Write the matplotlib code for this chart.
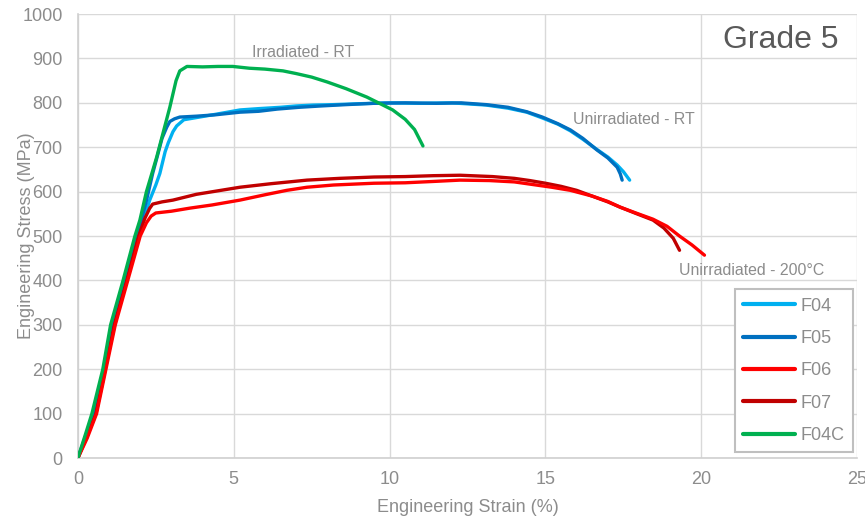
import matplotlib
matplotlib.use("Agg")
import matplotlib.pyplot as plt

plt.rcParams['font.family'] = ['Liberation Sans', 'DejaVu Sans']

# ---- data ----
f04_x = [0, 0.3, 0.5, 0.85, 1.15, 1.5, 1.9, 2.3, 2.5, 2.63, 2.8, 2.9, 3.05, 3.17, 3.4, 3.9, 4.4,
         5.2, 5.8, 6.5, 7.0, 7.55, 8.2, 9.0, 10.0, 11.0, 12.0, 13.1, 13.8, 14.4, 14.9, 15.4,
         15.8, 16.2, 16.65, 17.0, 17.3, 17.5, 17.7]
f04_y = [0, 55, 95, 195, 290, 390, 490, 580, 615, 641, 690, 710, 735, 748, 762, 768, 774,
         784, 787, 790, 793, 795, 796, 798, 800, 799, 800, 795, 788, 779, 766, 752,
         737, 718, 695, 678, 660, 645, 626]

f05_x = [0, 0.3, 0.5, 0.85, 1.12, 1.5, 1.9, 2.2, 2.4, 2.55, 2.7, 2.85, 2.95, 3.1, 3.27, 3.8,
         4.4, 5.2, 5.8, 6.4, 7.1, 7.8, 8.6, 9.5, 10.5, 11.5, 12.3, 13.1, 13.8, 14.4, 14.9,
         15.4, 15.8, 16.2, 16.65, 17.0, 17.3, 17.4, 17.46]
f05_y = [0, 60, 100, 200, 300, 400, 500, 580, 641, 680, 720, 745, 758, 764, 768, 770,
         773, 779, 781, 786, 790, 793, 796, 799, 800, 799, 800, 796, 790, 780, 768,
         753, 739, 720, 694, 676, 655, 640, 626]

f06_x = [0, 0.3, 0.6, 0.9, 1.2, 1.6, 2.0, 2.2, 2.35, 2.5, 3.0, 3.6, 4.3, 5.2, 6.0, 6.7,
         7.35, 8.2, 9.5, 10.5, 11.4, 12.26, 13.2, 14.0, 14.6, 15.2, 15.8, 16.5, 17.0, 17.4,
         17.9, 18.45, 18.9, 19.3, 19.7, 20.1]
f06_y = [0, 45, 100, 200, 300, 400, 500, 530, 545, 552, 556, 563, 570, 581, 593, 603,
         610, 615, 619, 620, 623, 626, 625, 622, 616, 610, 603, 590, 578, 565,
         552, 538, 522, 500, 480, 457]

f07_x = [0, 0.3, 0.58, 0.88, 1.17, 1.57, 1.95, 2.15, 2.3, 2.4, 2.7, 3.05, 3.8, 4.5, 5.2, 6.2,
         7.35, 8.4, 9.5, 10.5, 11.4, 12.26, 13.3, 14.0, 14.5, 15.0, 15.5, 16.0, 16.5, 17.0,
         17.4, 17.9, 18.45, 18.8, 19.1, 19.3]
f07_y = [0, 50, 100, 200, 300, 400, 500, 540, 562, 572, 577, 581, 594, 602, 610, 618,
         626, 630, 633, 634, 636, 637, 634, 630, 625, 619, 612, 603, 590, 577,
         565, 551, 536, 518, 495, 468]

f04c_x = [0, 0.25, 0.45, 0.8, 1.05, 1.45, 1.83, 1.99, 2.2, 2.53, 2.8, 2.95, 3.05, 3.15, 3.27,
          3.5, 4.0, 4.5, 4.97, 5.5, 6.0, 6.58, 7.0, 7.5, 8.0, 8.6, 9.27, 9.7, 10.1, 10.5,
          10.8, 11.07]
f04c_y = [0, 55, 100, 200, 300, 400, 500, 536, 600, 678, 750, 790, 820, 850, 872,
          882, 881, 882, 882, 878, 876, 872, 866, 858, 847, 832, 813, 798, 784, 763,
          740, 703]

series = [
    ("F04", f04_x, f04_y, "#00B0F0", 2),
    ("F05", f05_x, f05_y, "#0070C0", 3),
    ("F06", f06_x, f06_y, "#FF0000", 5),
    ("F07", f07_x, f07_y, "#C00000", 4),
    ("F04C", f04c_x, f04c_y, "#00B050", 6),
]

x_ticks = [0, 5, 10, 15, 20, 25]
y_ticks = [0, 100, 200, 300, 400, 500, 600, 700, 800, 900, 1000]

annotations = [
    ("Irradiated - RT", 7.22, 914),
    ("Unirradiated - RT", 17.84, 763),
    ("Unirradiated - 200°C", 21.6, 423),
]

# ---- figure ----
fig = plt.figure(figsize=(8.65, 5.2), dpi=100)
ax = fig.add_axes([0.090, 0.119, 0.901, 0.854])

for name, xs, ys, col, z in series:
    ax.plot(xs, ys, color=col, lw=2.4, label=name, zorder=z,
            solid_joinstyle='round', solid_capstyle='round')

ax.set_xlim(0, 25)
ax.set_ylim(0, 1000)
ax.set_xticks(x_ticks)
ax.set_yticks(y_ticks)
ax.grid(True, color="#D9D9D9", lw=1.0)
ax.set_axisbelow(True)
for s in ['top', 'right']:
    ax.spines[s].set_visible(False)
for s in ['left', 'bottom']:
    ax.spines[s].set_color("#D0D0D0")
    ax.spines[s].set_linewidth(1.2)
ax.tick_params(length=0, colors="#8C8C8C", labelsize=13)
ax.tick_params(axis='x', pad=9)
ax.tick_params(axis='y', pad=11)
ax.set_xlabel("Engineering Strain (%)", color="#8C8C8C", fontsize=13, labelpad=8)
ax.set_ylabel("Engineering Stress (MPa)", color="#8C8C8C", fontsize=13, labelpad=-9)

for txt, x, y in annotations:
    ax.text(x, y, txt, color="#8C8C8C", fontsize=11.4, ha='center', va='center')

ax.text(24.39, 941, "Grade 5", color="#595959", fontsize=23, ha='right', va='center')

leg = ax.legend(loc='lower right', bbox_to_anchor=(0.994, 0.0135), fontsize=13,
                handlelength=2.9, labelspacing=0.85, borderpad=0.45, handletextpad=0.3,
                fancybox=False, framealpha=1, edgecolor="#BFBFBF", borderaxespad=0)
leg.get_frame().set_linewidth(1.5)
for t in leg.get_texts():
    t.set_color("#8C8C8C")
for l in leg.get_lines():
    l.set_linewidth(3)

fig.savefig("out.png", dpi=100)
